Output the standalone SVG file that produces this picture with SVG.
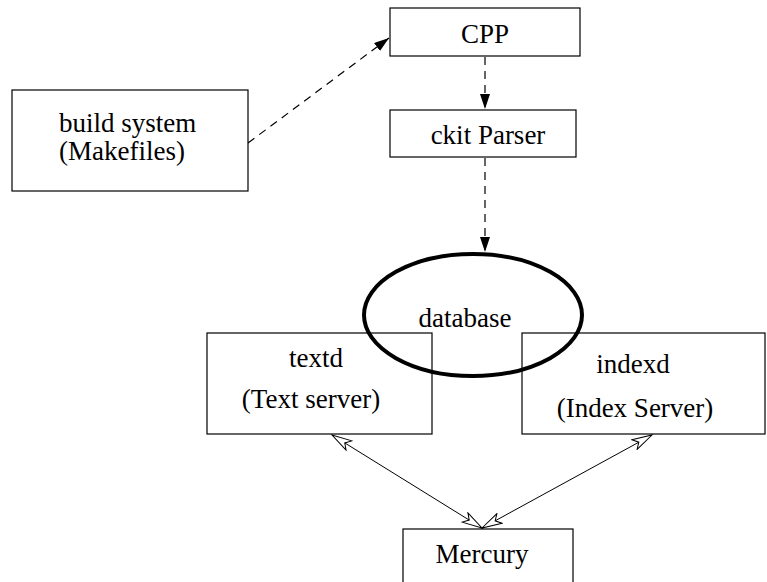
<svg xmlns="http://www.w3.org/2000/svg" width="767" height="582" viewBox="0 0 767 582">
<style>
.box{fill:none;stroke:#000;stroke-width:1.2}
.t{font-family:"Liberation Serif","Times New Roman",serif;font-size:27px;fill:#000}
.c{text-anchor:middle}
.dash{stroke:#000;stroke-width:1.2;fill:none;stroke-dasharray:8 6}
.thin{stroke:#000;stroke-width:1;fill:none}
</style>
<defs>
<marker id="fill" markerUnits="userSpaceOnUse" markerWidth="16" markerHeight="12" refX="15" refY="5" orient="auto">
<path d="M0,0 L15,5 L0,10 z" fill="#000"/>
</marker>
<marker id="open" markerUnits="userSpaceOnUse" markerWidth="24" markerHeight="14" refX="21" refY="6.5" orient="auto-start-reverse">
<path d="M1,1 L21,6.5 L1,12 L6,6.5 z" fill="#fff" stroke="#000" stroke-width="1"/>
</marker>
</defs>
<g id="cpp"><rect class="box" x="390" y="8" width="190" height="48"/><text class="t c" x="485" y="43">CPP</text></g>
<g id="ckit"><rect class="box" x="390" y="110" width="186" height="47"/><text class="t c" x="488" y="144">ckit Parser</text></g>
<g id="build"><rect class="box" x="12" y="90" width="236" height="101"/><text class="t" x="59" y="132">build system</text><text class="t" x="59" y="160">(Makefiles)</text></g>
<g id="textd"><rect class="box" x="207" y="333" width="225" height="101"/><text class="t c" x="316" y="367">textd</text><text class="t c" x="311" y="408">(Text server)</text></g>
<g id="indexd"><rect class="box" x="522" y="333" width="243" height="101"/><text class="t c" x="633" y="373">indexd</text><text class="t c" x="635" y="417">(Index Server)</text></g>
<g id="mercury"><rect class="box" x="403" y="529" width="170" height="60"/><text class="t c" x="482" y="563">Mercury</text></g>
<g id="database"><ellipse cx="473" cy="315" rx="109" ry="61" fill="none" stroke="#000" stroke-width="4"/><text class="t c" x="465" y="327">database</text></g>
<g id="connectors">
<line class="dash" x1="248" y1="143" x2="389" y2="38" marker-end="url(#fill)"/>
<line class="dash" x1="485" y1="57" x2="485" y2="109" marker-end="url(#fill)"/>
<line class="dash" x1="485" y1="158" x2="485" y2="252" marker-end="url(#fill)"/>
<line class="thin" x1="332" y1="435" x2="482" y2="528" marker-start="url(#open)" marker-end="url(#open)"/>
<line class="thin" x1="652" y1="435" x2="482" y2="528" marker-start="url(#open)" marker-end="url(#open)"/>
</g>
</svg>
